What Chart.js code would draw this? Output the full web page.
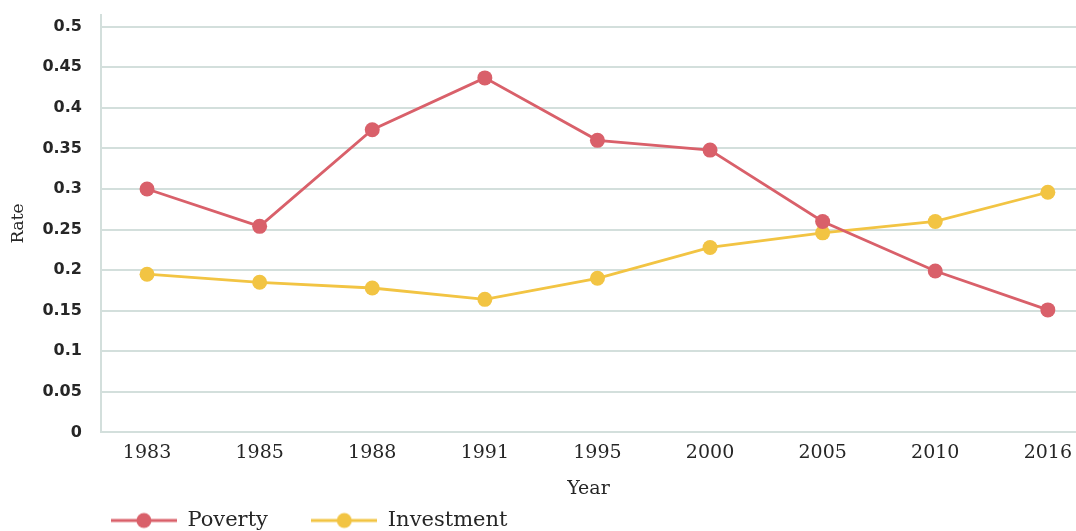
<!DOCTYPE html>
<html>
<head>
<meta charset="utf-8">
<script src="https://cdn.jsdelivr.net/npm/chart.js@4/dist/chart.umd.min.js"></script>
<style>
  html, body { margin: 0; padding: 0; background: #fff; overflow: hidden; }
  #wrap { width: 1076px; height: 531px; }
</style>
</head>
<body>
<div id="wrap"><canvas id="chart"></canvas></div>
<script>
// Data
const years = ['1983', '1985', '1988', '1991', '1995', '2000', '2005', '2010', '2016'];
const poverty = [0.300, 0.254, 0.373, 0.437, 0.360, 0.348, 0.260, 0.199, 0.151];
const investment = [0.195, 0.185, 0.178, 0.164, 0.190, 0.228, 0.246, 0.260, 0.296];
const yTicks = [0, 0.05, 0.1, 0.15, 0.2, 0.25, 0.3, 0.35, 0.4, 0.45, 0.5];

const RED = '#d9606a';
const YELLOW = '#f2c443';
const GRID = '#d3dfdc';
const TEXT = '#262626';
const SLAB = '"DejaVu Serif", serif';

// Legend marker: a short line with a dot in the middle
function legendMarker(color) {
    const c = document.createElement('canvas');
    c.width = 66;
    c.height = 18;
    const g = c.getContext('2d');
    g.strokeStyle = color;
    g.lineWidth = 3;
    g.beginPath();
    g.moveTo(0, 9);
    g.lineTo(66, 9);
    g.stroke();
    g.fillStyle = color;
    g.beginPath();
    g.arc(33, 9, 7.5, 0, Math.PI * 2);
    g.fill();
    return c;
}

const toPoints = arr => arr.map((v, i) => ({ x: i, y: v }));

const lineStyle = color => ({
    borderColor: color,
    backgroundColor: color,
    borderWidth: 2.8,
    pointRadius: 7.5,
    pointHoverRadius: 7.5,
    pointBorderWidth: 0,
    tension: 0,
    clip: false
});

new Chart(document.getElementById('chart'), {
    type: 'line',
    data: {
        datasets: [
            { label: 'Poverty', data: toPoints(poverty), ...lineStyle(RED) },
            { label: 'Investment', data: toPoints(investment), ...lineStyle(YELLOW) }
        ]
    },
    options: {
        responsive: true,
        maintainAspectRatio: false,
        animation: false,
        layout: { autoPadding: false, padding: { top: 0, right: 0, bottom: -10, left: 0 } },
        plugins: {
            tooltip: { enabled: false },
            legend: {
                position: 'bottom',
                align: 'start',
                fullSize: false,
                labels: {
                    usePointStyle: true,
                    pointStyleWidth: 66,
                    padding: 10,
                    color: TEXT,
                    font: { family: SLAB, size: 21 },
                    generateLabels: chart => chart.data.datasets.map((ds, i) => ({
                        // trailing spaces widen the gap between the two items
                        text: i === 0 ? ds.label + '     ' : ds.label,
                        pointStyle: legendMarker(ds.borderColor),
                        fillStyle: ds.borderColor,
                        strokeStyle: ds.borderColor,
                        lineWidth: 0,
                        hidden: false,
                        datasetIndex: i,
                        fontColor: TEXT
                    }))
                }
            }
        },
        scales: {
            x: {
                type: 'linear',
                min: -0.41,
                max: 8.25,
                afterBuildTicks: axis => {
                    axis.ticks = years.map((_, i) => ({ value: i }));
                },
                grid: { display: false },
                border: { display: true, color: GRID, width: 2 },
                ticks: {
                    color: TEXT,
                    font: { family: SLAB, size: 19 },
                    padding: 1,
                    maxRotation: 0,
                    callback: v => years[v]
                },
                title: {
                    display: true,
                    text: 'Year',
                    color: TEXT,
                    font: { family: SLAB, size: 19 },
                    padding: { top: 12, bottom: 0 }
                }
            },
            y: {
                min: 0,
                max: 0.515,
                afterBuildTicks: axis => {
                    axis.ticks = yTicks.map(v => ({ value: v }));
                },
                grid: {
                    color: GRID,
                    lineWidth: 2,
                    drawTicks: true,
                    tickLength: 14,
                    tickColor: 'rgba(0,0,0,0)'
                },
                border: { display: true, color: GRID, width: 2 },
                ticks: {
                    color: TEXT,
                    font: { family: '"DejaVu Sans", sans-serif', size: 16, weight: 'bold' },
                    padding: 5,
                    callback: v => String(+v.toFixed(2))
                },
                title: {
                    display: true,
                    text: 'Rate',
                    color: TEXT,
                    font: { family: SLAB, size: 17 },
                    padding: { top: 8, bottom: 9 }
                }
            }
        }
    }
});
</script>
</body>
</html>
